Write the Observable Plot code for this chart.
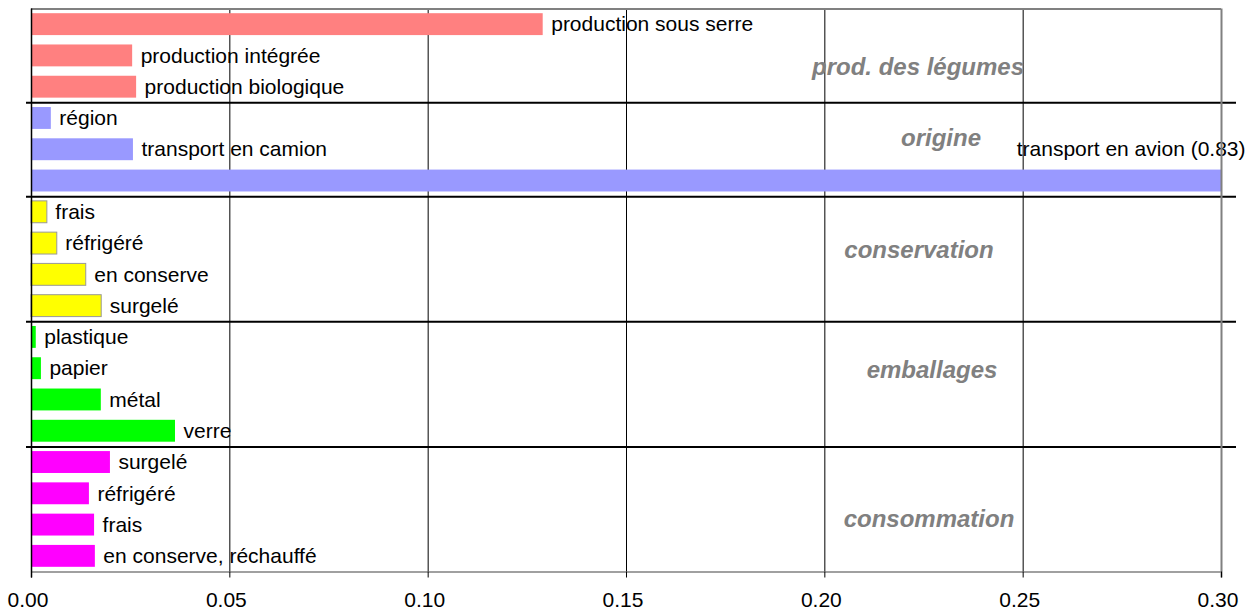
<!DOCTYPE html>
<html><head><meta charset="utf-8">
<script src="https://cdn.jsdelivr.net/npm/d3@7"></script>
<script src="https://cdn.jsdelivr.net/npm/@observablehq/plot@0.6"></script>
<style>body{margin:0;background:#fff}</style>
</head><body><div id="chart"></div>
<script>
const groupNames = ["prod. des légumes", "origine", "conservation", "emballages", "consommation"];
const prodLabels = ["production sous serre", "production intégrée", "production biologique"];
const prodValues = [0.129, 0.0255, 0.0265];
const origineLabels = ["région", "transport en camion", "transport en avion"];
const origineValues = [0.005, 0.0257, 0.83];
const conservationLabels = ["frais", "réfrigéré", "en conserve", "surgelé"];
const conservationValues = [0.004, 0.0065, 0.0138, 0.0177];
const emballagesLabels = ["plastique", "papier", "métal", "verre"];
const emballagesValues = [0.0012, 0.0025, 0.0176, 0.0363];
const consommationLabels = ["surgelé", "réfrigéré", "frais", "en conserve, réchauffé"];
const consommationValues = [0.0199, 0.0146, 0.0159, 0.0161];
const groupColors = ["#FF8080", "#9999FF", "#FFFF00", "#00FF00", "#FF00FF"];
const xTicks = [0, 0.05, 0.10, 0.15, 0.20, 0.25, 0.30];

const groupLabelsList = [prodLabels, origineLabels, conservationLabels, emballagesLabels, consommationLabels];
const groupValuesList = [prodValues, origineValues, conservationValues, emballagesValues, consommationValues];

const xMax = xTicks[xTicks.length - 1];
const rows = [];
const groupInfo = [];
let r = 0;
groupNames.forEach((g, gi) => {
  const start = r;
  groupLabelsList[gi].forEach((name, j) => {
    rows.push({group: g, gi, name, value: groupValuesList[gi][j], row: r, color: groupColors[gi]});
    r++;
  });
  groupInfo.push({name: g, start, end: r, center: (start + r) / 2});
});
const nRows = r;
const boundaries = groupInfo.slice(0, -1).map(g => g.end);

// annotation placement offsets (px) for the group titles
const titleOffsets = [[-6, 11], [17, -11], [-5, -9], [8, -14], [5, 10]];

const marks = [
  Plot.ruleX(xTicks.slice(1, -1), {stroke: "#000", strokeWidth: 1}),
  Plot.rect(rows, {x1: () => 0, x2: "value", y1: d => d.row + 0.15, y2: d => d.row + 0.85, fill: "color", clip: true}),
  Plot.rect(rows.filter(d => d.gi === 2), {x1: () => 0, x2: "value", y1: d => d.row + 0.15, y2: d => d.row + 0.85, fill: "none", stroke: "#999", strokeWidth: 1}),
  Plot.text(rows.filter(d => d.value <= xMax), {x: "value", y: d => d.row + 0.5, text: "name", textAnchor: "start", dx: 8, fontSize: 21, fill: "#000"}),
  Plot.text(rows.filter(d => d.value > xMax), {x: () => xMax, y: d => d.row - 0.5, text: d => `${d.name} (${d.value})`, textAnchor: "end", dx: 24, fontSize: 21, fill: "#000"}),
  Plot.ruleY(boundaries, {stroke: "#000", strokeWidth: 2, insetLeft: -5, insetRight: -15}),
  Plot.ruleY([0], {stroke: "#808080", strokeWidth: 2}),
  Plot.ruleY([nRows], {stroke: "#808080", strokeWidth: 1.5}),
  Plot.ruleX([xMax], {stroke: "#808080", strokeWidth: 2, insetBottom: -6}),
  Plot.ruleX([0], {stroke: "#000", strokeWidth: 1.5, insetBottom: -6}),
  Plot.axisX(xTicks, {tickFormat: () => "", tickSize: 6, color: "#000", label: null}),
  Plot.axisX(xTicks, {tickFormat: d3.format(".2f"), tickSize: 0, tickPadding: 20, fontSize: 21, dx: -3.5, color: "#000", label: null})
];
groupInfo.forEach((g, i) => {
  marks.push(Plot.text([g], {x: () => 0.225, y: d => d.center, text: "name", textAnchor: "middle",
    dx: titleOffsets[i][0], dy: titleOffsets[i][1], fontSize: 24, fontWeight: "bold", fontStyle: "italic", fill: "#808080"}));
});

const chart = Plot.plot({
  width: 1254,
  height: 615,
  marginLeft: 31,
  marginRight: 33,
  marginTop: 8.5,
  marginBottom: 43.5,
  style: {fontFamily: "'Liberation Sans', Arial, sans-serif", fontSize: "20px", background: "#fff", color: "#000"},
  x: {domain: [0, xMax], range: [31, 1221], label: null},
  y: {domain: [0, nRows], range: [8.5, 571.5], axis: null},
  marks
});
document.getElementById("chart").appendChild(chart);
</script>
</body></html>
